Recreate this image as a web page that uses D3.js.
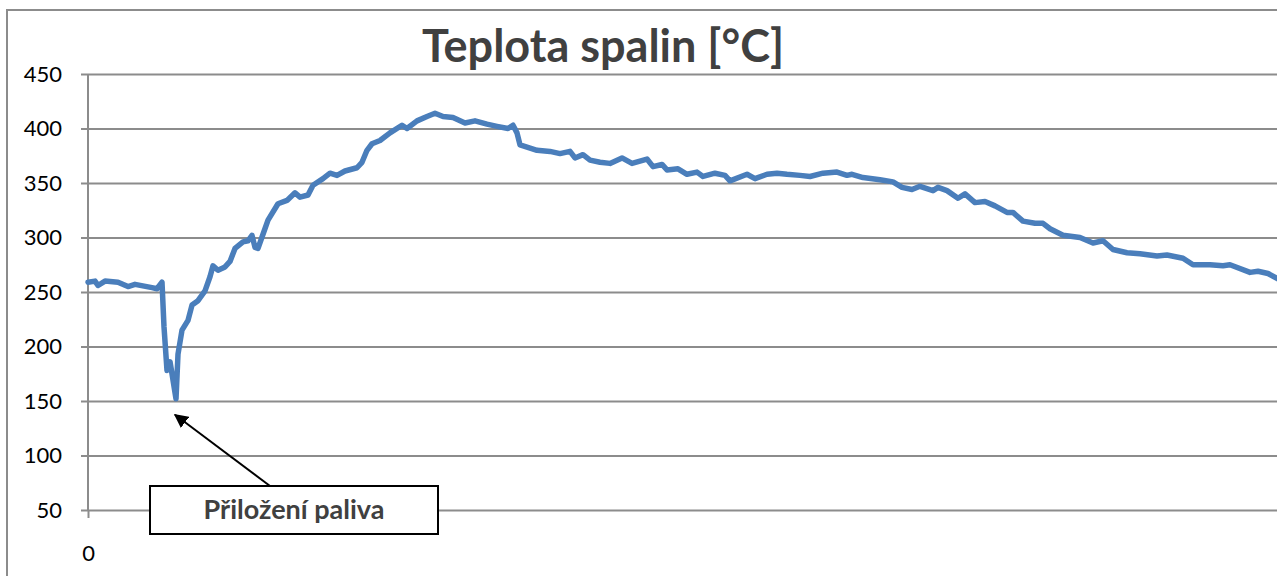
<!DOCTYPE html>
<html>
<head>
<meta charset="utf-8">
<script src="https://cdn.jsdelivr.net/npm/d3@7"></script>
<style>
  body { margin: 0; background: #fff; }
  svg { display: block; font-family: Lato, "Open Sans", sans-serif; }
</style>
</head>
<body>
<div id="myChart"></div>
<script>
// data (time in sample units, temperature in °C)
var time = [0, 7, 10, 17, 30, 40, 47, 64, 69, 74,
    76, 79, 82, 84, 88, 90, 94, 100, 104, 110,
    117, 122, 125, 130, 137, 142, 147, 155, 160, 164,
    167, 170, 175, 180, 190, 199, 207, 212, 220, 225,
    235, 242, 249, 257, 269, 274, 279, 284, 292, 302,
    314, 319, 329, 339, 347, 355, 365, 377, 387, 399,
    409, 420, 425, 429, 432, 439, 449, 462, 472, 482,
    487, 495, 502, 512, 522, 534, 544, 559, 565, 574,
    579, 590, 599, 609, 615, 627, 637, 642, 659, 667,
    679, 689, 699, 712, 722, 735, 749, 759, 764, 775,
    792, 805, 814, 824, 832, 845, 850, 859, 870, 877,
    887, 897, 907, 919, 925, 935, 947, 955, 962, 975,
    992, 1005, 1015, 1025, 1039, 1052, 1069, 1079, 1095, 1105,
    1122, 1135, 1142, 1162, 1170, 1180, 1192];

var temp = [259, 260, 256, 260, 259, 255, 257, 254, 253, 259,
    218, 178, 186, 175, 152, 193, 215, 224, 238, 242,
    251, 264, 274, 270, 273, 278, 290, 296, 297, 302,
    291, 290, 303, 316, 331, 334, 341, 337, 339, 348,
    354, 359, 357, 361, 364, 369, 380, 386, 389, 396,
    403, 400, 407, 411, 414, 411, 410, 405, 407, 404,
    402, 400, 403, 396, 385, 383, 380, 379, 377, 379,
    373, 376, 371, 369, 368, 373, 368, 372, 365, 367,
    362, 363, 358, 360, 356, 359, 357, 352, 358, 354,
    358, 359, 358, 357, 356, 359, 360, 357, 358, 355,
    353, 351, 346, 344, 347, 343, 346, 343, 336, 340,
    332, 333, 329, 323, 323, 315, 313, 313, 308, 302,
    300, 295, 297, 289, 286, 285, 283, 284, 281, 275,
    275, 274, 275, 268, 269, 267, 261];

var yTicks = [50, 100, 150, 200, 250, 300, 350, 400, 450];
var xTicks = [0];
var title = "Teplota spalin [°C]";
var note = { text: "Přiložení paliva", t: 206, v: 50 };

var W = 1277, H = 576;
var margin = { top: 74, left: 88, bottom: 66 };

var x = d3.scaleLinear().domain([0, 1190]).range([margin.left, 1278]);
var y = d3.scaleLinear().domain([50, 450]).range([H - margin.bottom, margin.top]);

var data = time.map(function (t, i) { return { t: t, v: temp[i] }; });

var svg = d3.select("#myChart").append("svg")
    .attr("width", W)
    .attr("height", H);

// chart frame
svg.append("rect")
    .attr("x", 7).attr("y", 10)
    .attr("width", W + 20).attr("height", H + 20)
    .attr("fill", "#fff")
    .attr("stroke", "#8c8c8c")
    .attr("stroke-width", 2);

svg.append("text")
    .attr("x", 603)
    .attr("y", 62)
    .attr("text-anchor", "middle")
    .attr("font-size", 45)
    .attr("font-weight", "bold")
    .attr("fill", "#404040")
    .text(title);

// y axis with gridlines
var yAxis = d3.axisLeft(y)
    .tickValues(yTicks)
    .tickSize(-(W - 81))
    .tickPadding(19);

var gy = svg.append("g")
    .attr("transform", "translate(81,0)")
    .call(yAxis);
gy.select(".domain").remove();
gy.selectAll(".tick line").attr("stroke", "#8c8c8c").attr("stroke-width", 2);
gy.selectAll(".tick text")
    .attr("font-size", 22)
    .attr("font-family", "Lato, sans-serif")
    .attr("fill", "#000");

// x axis
var xAxis = d3.axisBottom(x)
    .tickValues(xTicks)
    .tickSize(8)
    .tickPadding(27);

var gx = svg.append("g")
    .attr("transform", "translate(0," + y(50) + ")")
    .call(xAxis);
gx.select(".domain").remove();
gx.selectAll(".tick line").attr("stroke", "#8c8c8c").attr("stroke-width", 2);
gx.selectAll(".tick text")
    .attr("font-size", 22)
    .attr("font-family", "Lato, sans-serif")
    .attr("fill", "#000");

svg.append("line")
    .attr("x1", x(0)).attr("x2", x(0))
    .attr("y1", y(450)).attr("y2", y(50))
    .attr("stroke", "#8c8c8c")
    .attr("stroke-width", 2);

// series
var line = d3.line()
    .x(function (d) { return x(d.t); })
    .y(function (d) { return y(d.v); });

svg.append("path")
    .datum(data)
    .attr("fill", "none")
    .attr("stroke", "#4a7ebb")
    .attr("stroke-width", 5.5)
    .attr("stroke-linejoin", "round")
    .attr("stroke-linecap", "round")
    .attr("d", line);

// annotation: arrow pointing at the minimum
var minPt = data.reduce(function (a, b) { return b.v < a.v ? b : a; });

svg.append("defs").append("marker")
    .attr("id", "arrow")
    .attr("viewBox", "0 0 10 10")
    .attr("refX", 9).attr("refY", 5)
    .attr("markerWidth", 7).attr("markerHeight", 7)
    .attr("markerUnits", "strokeWidth")
    .attr("orient", "auto")
    .append("path")
    .attr("d", "M0,0 L10,5 L0,10 z")
    .attr("fill", "#000");

var boxW = 288, boxH = 48;
var bx = x(note.t), by = y(note.v);

svg.append("line")
    .attr("x1", bx - 24).attr("y1", by - boxH / 2)
    .attr("x2", x(minPt.t) - 1).attr("y2", y(minPt.v) + 16)
    .attr("stroke", "#000")
    .attr("stroke-width", 2)
    .attr("marker-end", "url(#arrow)");

svg.append("rect")
    .attr("x", bx - boxW / 2).attr("y", by - boxH / 2)
    .attr("width", boxW).attr("height", boxH)
    .attr("fill", "#fff")
    .attr("stroke", "#000")
    .attr("stroke-width", 2);

svg.append("text")
    .attr("x", bx)
    .attr("y", by + 9)
    .attr("text-anchor", "middle")
    .attr("font-size", 27)
    .attr("font-weight", "bold")
    .attr("fill", "#404040")
    .text(note.text);
</script>
</body>
</html>
